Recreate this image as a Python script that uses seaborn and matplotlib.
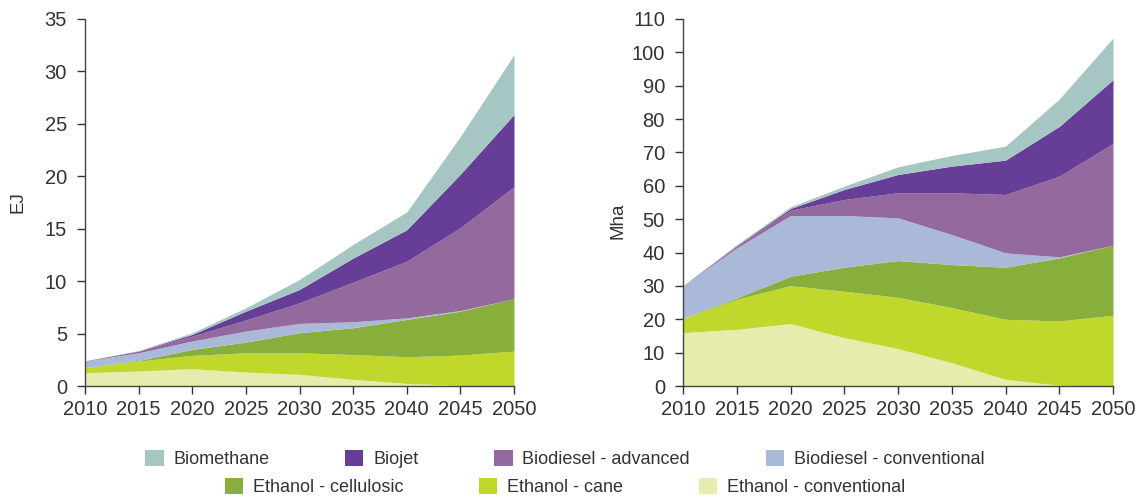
import matplotlib
matplotlib.use('Agg')
import matplotlib.pyplot as plt
from matplotlib.patches import Patch
import seaborn as sns
import pandas as pd

##### DATA #####
years = [2010, 2015, 2020, 2025, 2030, 2035, 2040, 2045, 2050]

series = ['Ethanol - conventional', 'Ethanol - cane', 'Ethanol - cellulosic',
          'Biodiesel - conventional', 'Biodiesel - advanced', 'Biojet', 'Biomethane']

# energy, EJ (layer thickness)
ej_eth_conv = [1.27, 1.43, 1.65, 1.33, 1.11, 0.63, 0.25, 0.06, 0.0]
ej_eth_cane = [0.48, 0.95, 1.27, 1.84, 2.06, 2.37, 2.54, 2.89, 3.33]
ej_eth_cell = [0.0, 0.06, 0.57, 1.02, 1.91, 2.56, 3.56, 4.19, 4.99]
ej_bd_conv = [0.63, 0.73, 0.80, 1.05, 0.89, 0.57, 0.15, 0.06, 0.0]
ej_bd_adv = [0.02, 0.16, 0.47, 1.05, 1.97, 3.77, 5.4, 7.9, 10.68]
ej_biojet = [0.0, 0.02, 0.16, 0.85, 1.27, 2.3, 3.0, 5.1, 6.9]
ej_biomethane = [0.0, 0.03, 0.16, 0.32, 0.95, 1.3, 1.7, 3.6, 5.7]

# land, Mha (layer thickness)
mha_eth_conv = [16.0, 17.0, 18.7, 14.5, 11.2, 7.0, 2.0, 0.2, 0.0]
mha_eth_cane = [4.3, 9.0, 11.4, 13.9, 15.4, 16.5, 18.0, 19.3, 21.2]
mha_eth_cell = [0.0, 0.4, 2.8, 7.2, 11.0, 12.9, 15.6, 18.9, 21.0]
mha_bd_conv = [9.8, 15.0, 18.2, 15.5, 12.8, 9.0, 4.3, 0.3, 0.0]
mha_bd_adv = [0.0, 0.5, 1.6, 4.8, 7.5, 12.5, 17.5, 24.2, 30.5]
mha_biojet = [0.0, 0.2, 0.5, 3.0, 5.5, 8.0, 10.3, 14.9, 19.1]
mha_biomethane = [0.0, 0.3, 0.5, 1.0, 2.3, 3.2, 4.2, 8.2, 12.5]

colors = ['#e6ecad', '#c0d72c', '#88ae3c', '#aab9d8', '#94699e', '#663e97', '#a6c6c4']
#####

ej = pd.DataFrame(dict(zip(series, [ej_eth_conv, ej_eth_cane, ej_eth_cell, ej_bd_conv,
                                    ej_bd_adv, ej_biojet, ej_biomethane])), index=years)
mha = pd.DataFrame(dict(zip(series, [mha_eth_conv, mha_eth_cane, mha_eth_cell, mha_bd_conv,
                                     mha_bd_adv, mha_biojet, mha_biomethane])), index=years)

sns.set_style('ticks')
plt.rcParams['font.family'] = ['Liberation Sans', 'DejaVu Sans']

fig = plt.figure(figsize=(11.42, 4.97), dpi=100)
ax1 = fig.add_axes([85 / 1142, 111 / 497, 429 / 1142, 367 / 497])
ax2 = fig.add_axes([683 / 1142, 111 / 497, 430 / 1142, 367 / 497])

for ax, df, top, step, lab in [(ax1, ej, 35, 5, 'EJ'), (ax2, mha, 110, 10, 'Mha')]:
    ax.stackplot(df.index, [df[s] for s in series], colors=colors, linewidth=0)
    ax.set_xlim(2010, 2050)
    ax.set_ylim(0, top)
    ax.set_xticks(years)
    ax.set_yticks(range(0, top + 1, step))
    ax.tick_params(labelsize=14.5, colors='#333333', length=6, width=1)
    ax.tick_params(axis='y', pad=7)
    ax.tick_params(axis='x', pad=4)
    ax.set_ylabel(lab, fontsize=13.5, color='#333333')
    sns.despine(ax=ax)
    for sp in ['left', 'bottom']:
        ax.spines[sp].set_color('#444444')
        ax.spines[sp].set_linewidth(1)

ax1.yaxis.set_label_coords(-58 / 429, 0.5)
ax2.yaxis.set_label_coords(-56 / 430, 0.45)

handles = {s: Patch(facecolor=c, edgecolor='none') for s, c in zip(series, colors)}
row1 = ['Biomethane', 'Biojet', 'Biodiesel - advanced', 'Biodiesel - conventional']
row2 = ['Ethanol - cellulosic', 'Ethanol - cane', 'Ethanol - conventional']
for row, yy in [(row1, 459), (row2, 487)]:
    fig.legend([handles[s] for s in row], row, loc='center', bbox_to_anchor=(565 / 1142, 1 - yy / 497),
               ncol=len(row), frameon=False, fontsize=13, handlelength=1.0, handleheight=1.0,
               handletextpad=0.55, columnspacing=4.2, borderaxespad=0, borderpad=0,
               labelcolor='#333333')

fig.savefig('out.png', dpi=100)
